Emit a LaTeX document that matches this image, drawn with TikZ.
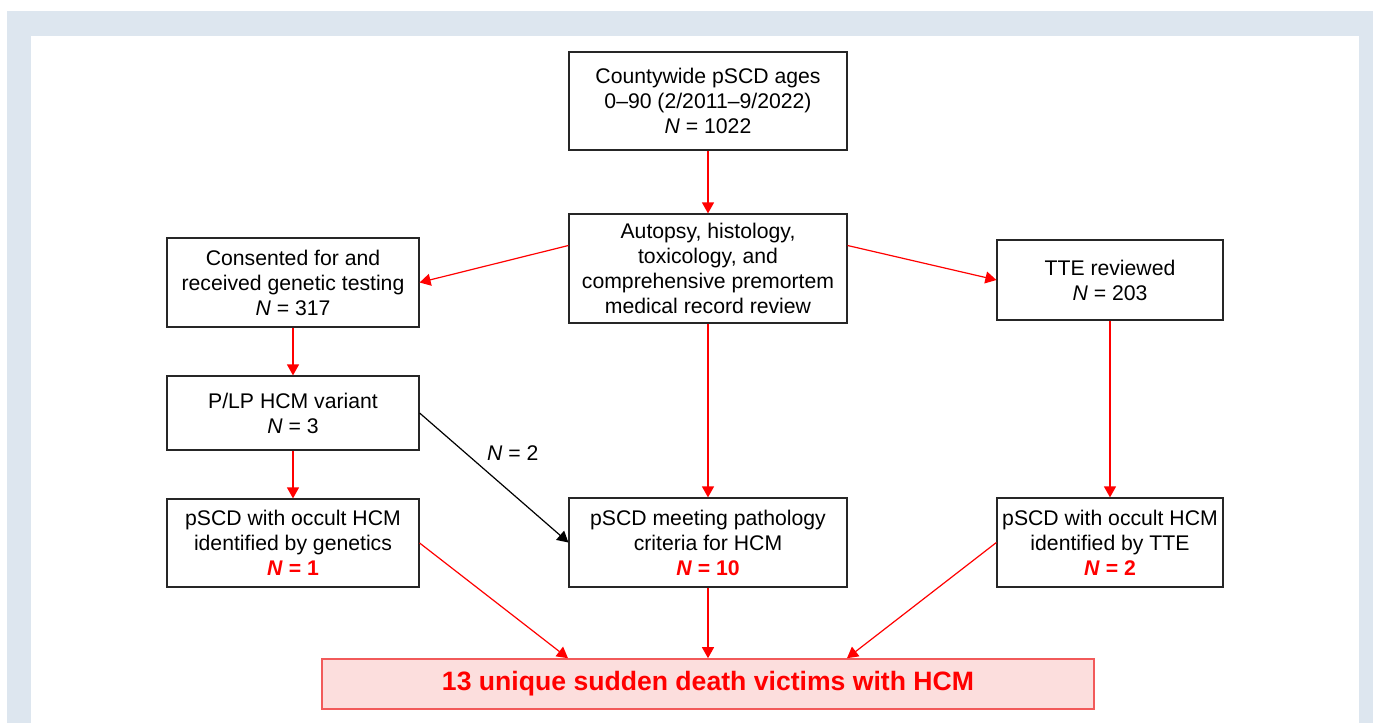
\documentclass[tikz,border=0pt]{standalone}
\usepackage{fontspec}
\setmainfont{Liberation Sans}
\usetikzlibrary{arrows.meta}
\definecolor{panelblue}{HTML}{DDE6EF}
\definecolor{totalfill}{HTML}{FCDEDD}
\definecolor{totaledge}{HTML}{F25A5A}
\tikzset{
    flowbox/.style={
            draw=black!85, line width=0.6pt, fill=white, align=center, inner sep=0pt,
            font=\fontsize{10.6}{12.5}\selectfont
        },
    totalbox/.style={
            draw=totaledge, line width=0.8pt, fill=totalfill, align=center, inner sep=0pt,
            text=red, font=\fontsize{13.3}{16}\selectfont\bfseries
        },
    redarrow/.style={draw=red, line width=0.6pt, -{Triangle[length=5.5pt,width=6pt]}},
    blackarrow/.style={draw=black, line width=0.6pt, -{Triangle[length=5.5pt,width=6pt]}},
}
\newcommand{\redN}[1]{\textcolor{red}{\textbf{\textit{N} = #1}}}

\begin{document}
\begin{tikzpicture}[x=0.5pt, y=-0.5pt]
        %panel behind the chart
        \useasboundingbox (0, 0) rectangle (1373, 723);
        \fill[panelblue] (7, 11) rectangle (1373, 723);
        \fill[white] (31, 36) rectangle (1359, 723);
        %boxes of the middle column
        \node[flowbox, minimum width=139pt, minimum height=49pt] (start) at (708, 101)
            {Countywide pSCD ages\\0--90 (2/2011--9/2022)\\\textit{N} = 1022};
        \node[flowbox, minimum width=139pt, minimum height=54.5pt] (review) at (708, 268.5)
            {Autopsy, histology,\\toxicology, and\\comprehensive premortem\\medical record review};
        \node[flowbox, minimum width=139pt, minimum height=44.5pt] (meeting) at (708, 542.5)
            {pSCD meeting pathology\\criteria for HCM\\\redN{10}};
        %boxes of the left column
        \node[flowbox, minimum width=126pt, minimum height=44.5pt] (genetic) at (293, 282.5)
            {Consented for and\\received genetic testing\\\textit{N} = 317};
        \node[flowbox, minimum width=126pt, minimum height=37pt] (variant) at (293, 413)
            {P/LP HCM variant\\\textit{N} = 3};
        \node[flowbox, minimum width=126pt, minimum height=44pt] (occgen) at (293, 543)
            {pSCD with occult HCM\\identified by genetics\\\redN{1}};
        %boxes of the right column
        \node[flowbox, minimum width=113pt, minimum height=40pt] (tte) at (1110, 280)
            {TTE reviewed\\\textit{N} = 203};
        \node[flowbox, minimum width=113pt, minimum height=44.5pt] (occtte) at (1110, 542.5)
            {pSCD with occult HCM\\identified by TTE\\\redN{2}};
        %total at the bottom
        \node[totalbox, minimum width=386pt, minimum height=25pt] (total) at (708, 684)
            {13 unique sudden death victims with HCM};
        %arrows
        \draw[redarrow] (start) -- (review);
        \draw[redarrow] ([yshift=11.5pt]review.west) -- (genetic.east);
        \draw[redarrow] ([yshift=11.5pt]review.east) -- (tte.west);
        \draw[redarrow] (review) -- (meeting);
        \draw[redarrow] (genetic) -- (variant);
        \draw[redarrow] (variant) -- (occgen);
        \draw[redarrow] (tte) -- (occtte);
        \draw[blackarrow] (variant.east) -- node[pos=0.45, anchor=south west, yshift=5pt, inner sep=0pt,
            font=\fontsize{10.6}{12.5}\selectfont] {\textit{N} = 2} (meeting.west);
        \draw[redarrow] (occgen.east) -- ([xshift=-70pt]total.north);
        \draw[redarrow] (meeting) -- (total);
        \draw[redarrow] (occtte.west) -- ([xshift=69.5pt]total.north);
    \end{tikzpicture}
\end{document}
